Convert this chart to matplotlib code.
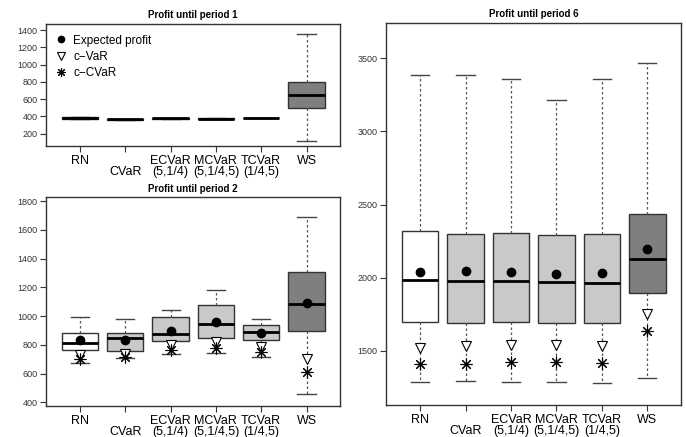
import matplotlib
matplotlib.use("Agg")
from matplotlib import pyplot as plt
from matplotlib.lines import Line2D

plt.rcParams['font.family'] = ['Liberation Sans', 'DejaVu Sans']

labels = ["RN", "\nCVaR", "ECVaR\n(5,1/4)", "MCVaR\n(5,1/4,5)", "TCVaR\n(1/4,5)", "WS"]
box_colors = ["white", "#c9c9c9", "#c9c9c9", "#c9c9c9", "#c9c9c9", "#7f7f7f"]

# period 1 (lo, q1, med, q3, hi)
p1_lo = [373, 362, 372, 370, 378, 119]
p1_q1 = [373, 362, 372, 370, 378, 498]
p1_med = [383, 366, 376, 374, 382, 642]
p1_q3 = [392, 370, 380, 378, 386, 793]
p1_hi = [392, 370, 380, 378, 386, 1350]

# period 2
p2_lo = [672, 710, 738, 740, 715, 455]
p2_q1 = [766, 756, 826, 847, 835, 894]
p2_med = [815, 847, 875, 944, 889, 1087]
p2_q3 = [884, 879, 991, 1075, 940, 1307]
p2_hi = [991, 977, 1042, 1180, 982, 1686]
p2_exp = [831, 831, 896, 961, 882, 1094]
p2_var = [732, 734, 796, 820, 786, 700]
p2_cvar = [703, 712, 761, 780, 752, 612]

# period 6
p6_lo = [1284, 1291, 1288, 1288, 1281, 1311]
p6_q1 = [1694, 1687, 1698, 1692, 1687, 1892]
p6_med = [1981, 1979, 1975, 1968, 1965, 2125]
p6_q3 = [2319, 2300, 2303, 2289, 2296, 2433]
p6_hi = [3388, 3386, 3361, 3213, 3358, 3466]
p6_exp = [2038, 2043, 2036, 2027, 2030, 2196]
p6_var = [1522, 1530, 1540, 1542, 1535, 1752]
p6_cvar = [1407, 1411, 1423, 1423, 1418, 1635]

pos = [1, 2, 3, 4, 5, 6]
edge = "#333333"


def make_stats(lo, q1, med, q3, hi):
    return [dict(whislo=lo[i], q1=q1[i], med=med[i], q3=q3[i], whishi=hi[i], fliers=[])
            for i in range(len(lo))]


def draw(ax, stats, title, yticks, ylim):
    bp = ax.bxp(stats, positions=pos, widths=0.8, capwidths=0.4, patch_artist=True,
                showfliers=False,
                boxprops=dict(edgecolor=edge, linewidth=1.0),
                whiskerprops=dict(color="#555555", linewidth=0.9, linestyle=(0, (2, 2))),
                capprops=dict(color="#444444", linewidth=1.0),
                medianprops=dict(color="black", linewidth=2.0))
    for patch, c in zip(bp["boxes"], box_colors):
        patch.set_facecolor(c)
    ax.set_xlim(0.25, 6.74)
    ax.set_ylim(*ylim)
    ax.set_yticks(yticks)
    ax.set_xticks(pos)
    ax.set_xticklabels(labels, fontsize=9, linespacing=0.92)
    ax.tick_params(axis="y", labelsize=6.5, length=4, width=0.8, pad=2, colors="#333333")
    ax.tick_params(axis="x", length=4, width=0.8, pad=2.5, colors="#333333", labelcolor="black")
    for s in ax.spines.values():
        s.set_color(edge)
        s.set_linewidth(1.0)
    ax.set_title(title, fontsize=7, fontweight="bold", pad=4)


def markers(ax, exp, var, cvar):
    ax.plot(pos, exp, "o", color="black", markersize=6, zorder=5)
    ax.plot(pos, var, "v", markerfacecolor="white", markeredgecolor="black",
            markersize=7.5, markeredgewidth=0.8, zorder=5)
    ax.plot(pos, cvar, marker=(8, 2, 0), linestyle="none", color="black",
            markersize=8.5, markeredgewidth=0.8, zorder=6)


fig = plt.figure(figsize=(6.86, 4.37), dpi=100)
ax1 = fig.add_axes([0.0671, 0.6659, 0.4286, 0.2792])
ax2 = fig.add_axes([0.0671, 0.0709, 0.4286, 0.4776])
ax3 = fig.add_axes([0.5627, 0.0732, 0.4300, 0.8741])

draw(ax1, make_stats(p1_lo, p1_q1, p1_med, p1_q3, p1_hi), "Profit until period 1",
     [200, 400, 600, 800, 1000, 1200, 1400], (56, 1470))
draw(ax2, make_stats(p2_lo, p2_q1, p2_med, p2_q3, p2_hi), "Profit until period 2",
     [400, 600, 800, 1000, 1200, 1400, 1600, 1800], (374, 1826))
markers(ax2, p2_exp, p2_var, p2_cvar)
draw(ax3, make_stats(p6_lo, p6_q1, p6_med, p6_q3, p6_hi), "Profit until period 6",
     [1500, 2000, 2500, 3000, 3500], (1129, 3741))
markers(ax3, p6_exp, p6_var, p6_cvar)

handles = [
    Line2D([], [], marker="o", color="black", linestyle="none", markersize=4.5),
    Line2D([], [], marker="v", markerfacecolor="white", markeredgecolor="black",
           linestyle="none", markersize=6, markeredgewidth=0.8),
    Line2D([], [], marker=(8, 2, 0), color="black", linestyle="none",
           markersize=6.5, markeredgewidth=0.8),
]
ax1.legend(handles, ["Expected profit", "c\u2212VaR", "c\u2212CVaR"], loc="upper left",
           frameon=False, fontsize=8.5, handlelength=0.8, handletextpad=0.6,
           labelspacing=0.35, borderaxespad=0.5, borderpad=0.4)

fig.savefig("out.png", dpi=100)
